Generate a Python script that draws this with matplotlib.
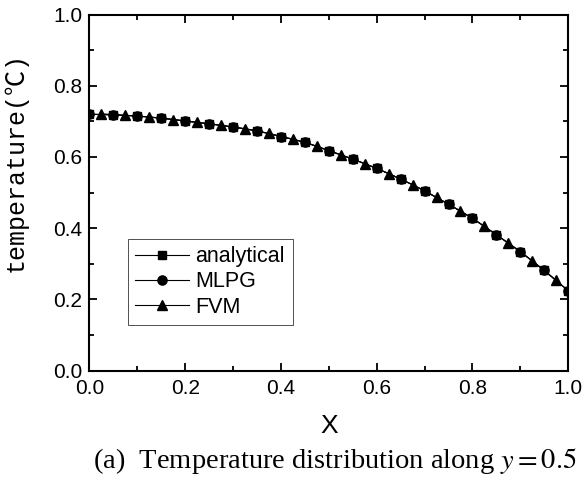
import matplotlib

matplotlib.use("Agg")

import matplotlib.pyplot as plt
from matplotlib.ticker import MultipleLocator

# values
x_nodes = [0.00, 0.05, 0.10, 0.15, 0.20, 0.25, 0.30, 0.35, 0.40, 0.45, 0.50,
           0.55, 0.60, 0.65, 0.70, 0.75, 0.80, 0.85, 0.90, 0.95, 1.00]
t_analytical = [0.720, 0.718, 0.715, 0.709, 0.701, 0.693, 0.684, 0.673, 0.657, 0.641, 0.618,
                0.594, 0.568, 0.538, 0.505, 0.467, 0.428, 0.381, 0.334, 0.281, 0.224]
t_mlpg = [0.720, 0.718, 0.715, 0.709, 0.701, 0.693, 0.684, 0.674, 0.657, 0.642, 0.617,
          0.594, 0.568, 0.538, 0.505, 0.467, 0.428, 0.381, 0.334, 0.281, 0.224]
x_fvm = [0.025, 0.075, 0.125, 0.175, 0.225, 0.275, 0.325, 0.375, 0.425, 0.475,
         0.525, 0.575, 0.625, 0.675, 0.725, 0.775, 0.825, 0.875, 0.925, 0.975]
t_fvm = [0.721, 0.717, 0.712, 0.705, 0.697, 0.689, 0.679, 0.666, 0.650, 0.630,
         0.606, 0.581, 0.553, 0.522, 0.486, 0.448, 0.405, 0.358, 0.308, 0.253]

plt.rcParams["font.family"] = ["Liberation Sans", "DejaVu Sans"]
plt.rcParams["mathtext.fontset"] = "stix"

fig = plt.figure(figsize=(5.84, 4.79), dpi=100)
ax = fig.add_axes([0.153, 0.2265, 0.82, 0.7432])

line_kw = {"color": "black", "linewidth": 0.8}
ax.plot(x_nodes, t_analytical, marker="s", markersize=6.0, label="analytical", **line_kw)
ax.plot(x_nodes, t_mlpg, marker="o", markersize=6.6, label="MLPG", **line_kw)
ax.plot(x_fvm, t_fvm, marker="^", markersize=7.2, label="FVM", **line_kw)

ax.set_xlim(0, 1)
ax.set_ylim(0, 1)
ax.xaxis.set_major_locator(MultipleLocator(0.2))
ax.xaxis.set_minor_locator(MultipleLocator(0.1))
ax.yaxis.set_major_locator(MultipleLocator(0.2))
ax.yaxis.set_minor_locator(MultipleLocator(0.1))
ax.tick_params(which="both", direction="in", top=True, right=True, width=1.3, labelsize=15)
ax.tick_params(which="major", length=6)
ax.tick_params(which="minor", length=3.5)
ax.tick_params(axis="x", pad=6)
ax.tick_params(axis="y", pad=5)
for spine in ax.spines.values():
    spine.set_linewidth(1.5)

ax.set_xlabel("X", fontsize=19)
ax.xaxis.set_label_coords(0.5, -0.121)
ax.set_ylabel("temperature(℃)", fontsize=18, family=["Liberation Mono", "Noto Sans CJK SC"])
ax.yaxis.set_label_coords(-0.128, 0.586)

leg = ax.legend(loc="lower left", bbox_to_anchor=(0.08, 0.127), fontsize=15.5,
                frameon=True, fancybox=False, edgecolor="black", handlelength=2.5,
                handletextpad=0.3, borderpad=0.35, labelspacing=0.2, borderaxespad=0)
leg.get_frame().set_linewidth(0.6)

fig.text(0.574, 0.038, r"(a)  Temperature distribution along $y = 0.5$", ha="center",
         va="center", fontsize=20.5, family="Liberation Serif")

fig.savefig("out.png", dpi=100)
plt.close(fig)
